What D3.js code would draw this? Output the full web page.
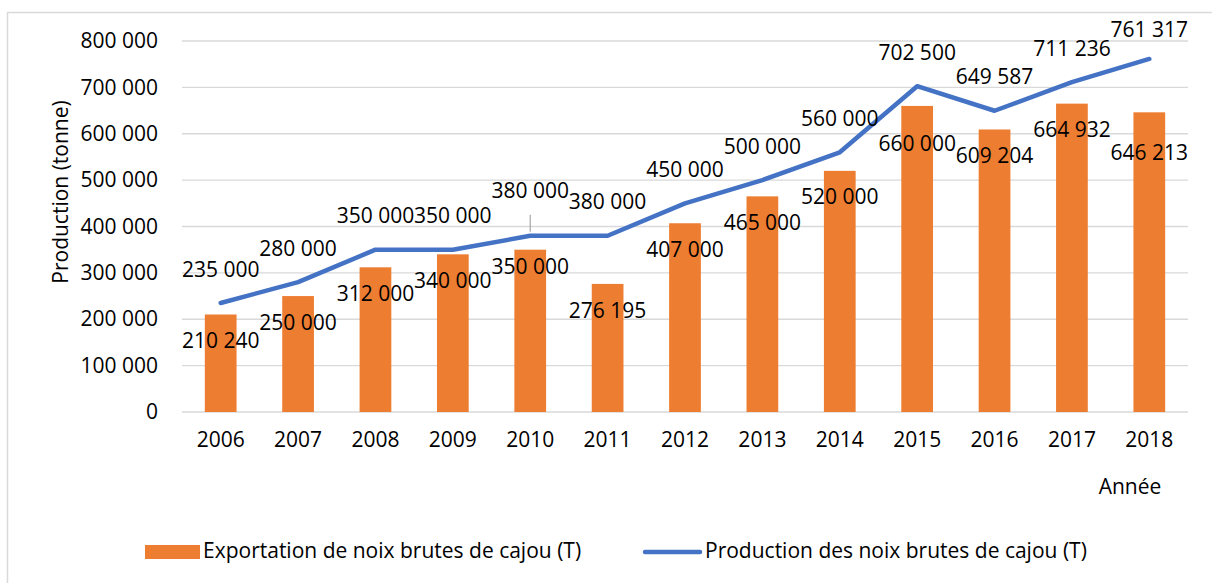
<!DOCTYPE html>
<html>
<head>
<meta charset="utf-8">
<script src="https://cdn.jsdelivr.net/npm/d3@7"></script>
<style>
  body { margin: 0; background: #fff; }
  text { font-family: "Open Sans", "Noto Sans", sans-serif; fill: #000; }
</style>
</head>
<body>
<div id="chart"></div>
<script>
// data
var years = ["2006","2007","2008","2009","2010","2011","2012","2013","2014","2015","2016","2017","2018"];
var exportation = [210240, 250000, 312000, 340000, 350000, 276195, 407000, 465000, 520000, 660000, 609204, 664932, 646213];
var production = [235000, 280000, 350000, 350000, 380000, 380000, 450000, 500000, 560000, 702500, 649587, 711236, 761317];
var yTicks = [0, 100000, 200000, 300000, 400000, 500000, 600000, 700000, 800000];

var svgWidth = 1212, svgHeight = 583;
var margin = { top: 41, left: 182, right: 24, bottom: 171 };
var chartWidth = svgWidth - margin.left - margin.right;
var chartHeight = svgHeight - margin.top - margin.bottom;
var fontSize = "21px";

// label nudges (px) where Excel moved labels away from defaults
var lineNudge = { "2010": -11, "2018": 4 };
var barNudge = { "2010": -9, "2015": 11, "2018": 14 };

var fmt = function(v) { return d3.format(",")(v).replace(/,/g, " "); };

var svg = d3.select("#chart").append("svg")
  .attr("width", svgWidth)
  .attr("height", svgHeight);

// outer frame (clipped at right/bottom)
svg.append("path")
  .attr("d", "M7.5," + (svgHeight + 2) + " V12.5 H" + (svgWidth + 2))
  .attr("fill", "none")
  .attr("stroke", "#d9d9d9")
  .attr("stroke-width", 1.5);

var chartGroup = svg.append("g")
  .attr("transform", `translate(${margin.left}, ${margin.top})`);

var x = d3.scaleBand().domain(years).range([0, chartWidth]).paddingInner(0.59).paddingOuter(0.295);
var xc = d3.scaleBand().domain(years).range([0, chartWidth]);
var y = d3.scaleLinear().domain([0, 800000]).range([chartHeight, 0]);

// gridlines
chartGroup.append("g").selectAll("line")
  .data(yTicks)
  .enter()
  .append("line")
  .attr("x1", 0)
  .attr("x2", chartWidth)
  .attr("y1", d => y(d))
  .attr("y2", d => y(d))
  .attr("stroke", "#d9d9d9")
  .attr("stroke-width", 1.3);

// y axis labels
var yAxis = chartGroup.append("g")
  .call(d3.axisLeft(y).tickValues(yTicks).tickFormat(fmt).tickSize(0).tickPadding(24));
yAxis.select(".domain").remove();
yAxis.selectAll("text").attr("font-size", fontSize).attr("font-family", "'Open Sans', sans-serif");

// x axis labels
var xAxis = chartGroup.append("g")
  .attr("transform", `translate(0, ${chartHeight})`)
  .call(d3.axisBottom(xc).tickSize(0).tickPadding(20));
xAxis.select(".domain").remove();
xAxis.selectAll("text").attr("font-size", fontSize).attr("font-family", "'Open Sans', sans-serif");

// bars
chartGroup.append("g").selectAll("rect")
  .data(years)
  .enter()
  .append("rect")
  .attr("x", d => x(d))
  .attr("width", x.bandwidth())
  .attr("y", (d, i) => y(exportation[i]))
  .attr("height", (d, i) => chartHeight - y(exportation[i]))
  .attr("fill", "#ED7D31");

// line
var line = d3.line()
  .x((d, i) => xc(years[i]) + xc.bandwidth() / 2)
  .y(d => y(d));

chartGroup.append("path")
  .datum(production)
  .attr("d", line)
  .attr("fill", "none")
  .attr("stroke", "#4472C4")
  .attr("stroke-width", 4.5)
  .attr("stroke-linejoin", "round")
  .attr("stroke-linecap", "round");

// leader line for 2010 label
var lx = xc("2010") + xc.bandwidth() / 2;
chartGroup.append("line")
  .attr("x1", lx).attr("x2", lx)
  .attr("y1", y(380000) - 21).attr("y2", y(380000) - 4)
  .attr("stroke", "#a6a6a6")
  .attr("stroke-width", 1.2);

// bar labels
chartGroup.append("g").selectAll("text")
  .data(years)
  .enter()
  .append("text")
  .attr("x", d => xc(d) + xc.bandwidth() / 2)
  .attr("y", (d, i) => y(exportation[i]) + 28 + (barNudge[d] || 0))
  .attr("text-anchor", "middle")
  .attr("dominant-baseline", "middle")
  .attr("font-size", fontSize)
  .text((d, i) => fmt(exportation[i]));

// line labels
chartGroup.append("g").selectAll("text")
  .data(years)
  .enter()
  .append("text")
  .attr("x", d => xc(d) + xc.bandwidth() / 2)
  .attr("y", (d, i) => y(production[i]) - 32 + (lineNudge[d] || 0))
  .attr("text-anchor", "middle")
  .attr("dominant-baseline", "middle")
  .attr("font-size", fontSize)
  .text((d, i) => fmt(production[i]));

// axis titles
svg.append("text")
  .attr("transform", "translate(62, 192) rotate(-90)")
  .attr("text-anchor", "middle")
  .attr("dominant-baseline", "middle")
  .attr("font-size", fontSize)
  .text("Production (tonne)");

svg.append("text")
  .attr("x", 1130)
  .attr("y", 488)
  .attr("text-anchor", "middle")
  .attr("dominant-baseline", "middle")
  .attr("font-size", fontSize)
  .text("Année");

// legend
var legend = svg.append("g").attr("transform", "translate(0, 552)");
legend.append("rect")
  .attr("x", 145).attr("y", -7)
  .attr("width", 55).attr("height", 14)
  .attr("fill", "#ED7D31");
legend.append("text")
  .attr("x", 203).attr("y", 0)
  .attr("dominant-baseline", "middle")
  .attr("font-size", fontSize)
  .text("Exportation de noix brutes de cajou (T)");
legend.append("line")
  .attr("x1", 645).attr("x2", 700)
  .attr("y1", 0).attr("y2", 0)
  .attr("stroke", "#4472C4")
  .attr("stroke-width", 4.5)
  .attr("stroke-linecap", "round");
legend.append("text")
  .attr("x", 705).attr("y", 0)
  .attr("dominant-baseline", "middle")
  .attr("font-size", fontSize)
  .text("Production des noix brutes de cajou (T)");
</script>
</body>
</html>
